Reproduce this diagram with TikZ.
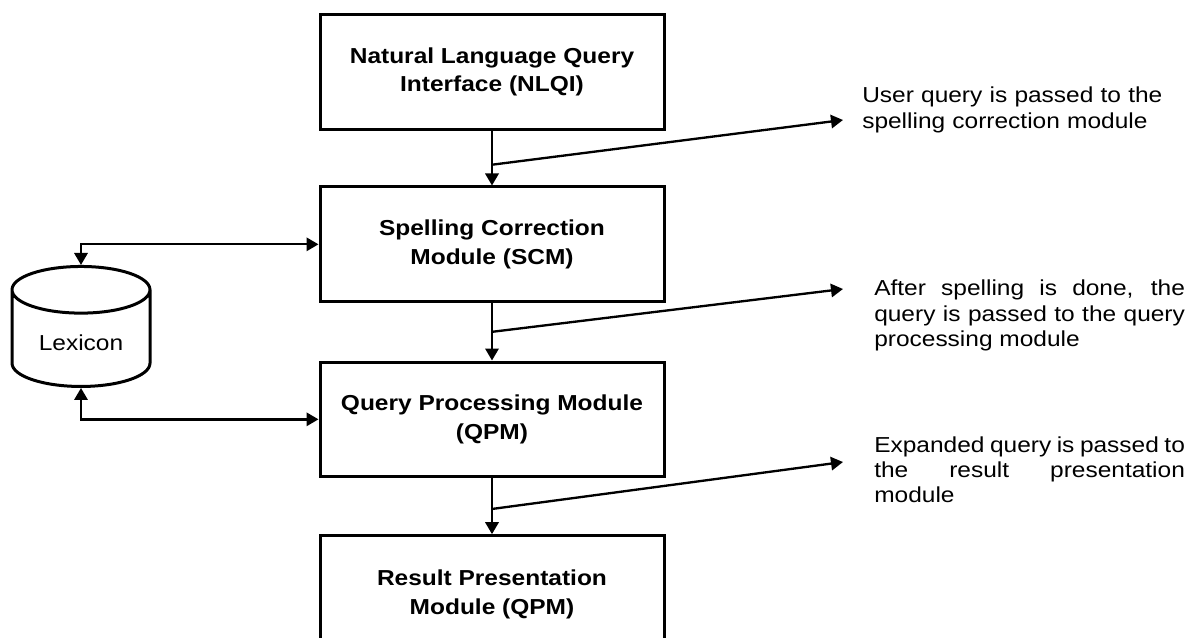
\documentclass[tikz,border=0pt]{standalone}
\usepackage{fontspec}
\setmainfont[FakeStretch=1.13]{Liberation Sans}
\usetikzlibrary{positioning,calc,shapes.geometric,arrows.meta}

\begin{document}
\begin{tikzpicture}[x=0.75pt,y=-0.75pt,
  >={Triangle[length=9pt,width=10pt]},
  module/.style={draw, line width=2.25pt, minimum width=258pt, minimum height=86pt,
    align=center, font=\fontsize{16.25}{21.5}\selectfont\bfseries},
  flow/.style={line width=1.75pt, ->},
  note/.style={inner sep=0pt, anchor=base west, text width=233pt,
    font=\fontsize{16.25}{19}\selectfont}]
\useasboundingbox (0,0) rectangle (1190,638);
% Modules
\node[module] (nlqi) at (492,72) {Natural Language Query\\Interface (NLQI)};
\node[module, below=41pt of nlqi] (scm) {Spelling Correction\\Module (SCM)};
\node[module, below=43pt of scm] (qpm) {Query Processing Module\\(QPM)};
\node[module, below=42pt of qpm, minimum height=88pt] (rpm) {Result Presentation\\Module (QPM)};
% Lexicon
\node[draw, line width=2.25pt, cylinder, shape border rotate=90, aspect=0.5,
  minimum width=103.5pt, minimum height=90pt,
  font=\fontsize{16.25}{19}\selectfont] (lexicon) at (81,343) {Lexicon};
\draw[flow, <->] (lexicon.top) |- (scm.west);
\draw[flow, <->] (lexicon.bottom) |- (qpm.west);
% Flow between modules
\draw[flow] (nlqi) -- (scm);
\draw[flow] (scm) -- (qpm);
\draw[flow] (qpm) -- (rpm);
% Notes
\node[note, align=left] (note1) at (862,103) {User query is passed to the\\spelling correction module};
\node[note, align=justify] (note2) at (874,296) {After spelling is done, the\linebreak query is passed to the query\linebreak processing module};
\node[note, align=justify] (note3) at (874,452) {Expanded query is passed to\linebreak the result presentation\linebreak module};
\coordinate (j1) at ($(nlqi.south)!0.62!(scm.north)$);
\coordinate (j2) at ($(scm.south)!0.5!(qpm.north)$);
\coordinate (j3) at ($(qpm.south)!0.55!(rpm.north)$);
\coordinate (t1) at (843,120);
\coordinate (t2) at (843,289);
\coordinate (t3) at (843,462);
\draw[flow] (j1) -- (t1);
\draw[flow] (j2) -- (t2);
\draw[flow] (j3) -- (t3);
\end{tikzpicture}
\end{document}
